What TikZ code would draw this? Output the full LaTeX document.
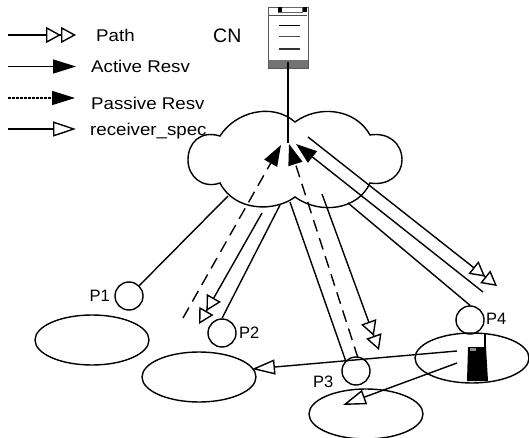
\documentclass[tikz,border=0pt]{standalone}
\usepackage{fontspec}
\setmainfont{Liberation Sans}
\newfontfamily\legendfont[FakeStretch=1.1]{Liberation Sans}
\usetikzlibrary{arrows.meta,shapes.geometric}
\tikzset{
  lbl/.style={font=\fontsize{16.5}{18}\selectfont, inner sep=0pt, anchor=west},
  leg/.style={font=\legendfont\fontsize{17}{18}\selectfont, inner sep=0pt, anchor=west},
  site/.style={draw, circle, minimum size=28pt, inner sep=0pt, line width=1.4pt},
  cell/.style={draw, ellipse, minimum width=114pt, minimum height=50pt, inner sep=0pt, line width=1.4pt},
  conn/.style={line width=1.4pt},
  dashconn/.style={line width=1.4pt, dash pattern=on 12pt off 7pt},
  pathtip/.style={-{Triangle[fill=white,length=15pt,width=16pt,line width=1.4pt,sep=0pt]Triangle[fill=white,length=15pt,width=16pt,line width=1.4pt]}},
  celltip/.style={-{Triangle[fill=white,length=23pt,width=15pt,line width=1.4pt]}},
  solidtip/.style={-{Triangle[length=21pt,width=14.5pt]}},
}
\begin{document}
\begin{tikzpicture}[x=1pt,y=-1pt]
\useasboundingbox (0,0) rectangle (529,438);
% legend
\coordinate (l1a) at (8,35);   \coordinate (l1b) at (76,35);
\coordinate (l2a) at (8,66.5); \coordinate (l2b) at (76,66.5);
\coordinate (l3a) at (8,98);   \coordinate (l3b) at (75,98);
\coordinate (l4a) at (8,129);  \coordinate (l4b) at (76,129);
\draw[conn,pathtip] (l1a) -- (l1b);
\draw[conn,-{Triangle[length=23pt,width=14pt]}] (l2a) -- (l2b);
\draw[conn,dash pattern=on 2.5pt off 1.5pt,-{Triangle[length=23pt,width=14pt]}] (l3a) -- (l3b);
\draw[conn,celltip] (l4a) -- (l4b);
\node[leg] (tpath) at (96,35) {Path};
\node[leg] (tactive) at (91,66) {Active Resv};
\node[leg] (tpassive) at (91,103) {Passive Resv};
\node[leg] (trecv) at (90,131) {receiver\_spec};
\node[lbl,font=\fontsize{19.5}{21}\selectfont] (tcn) at (213,36) {CN};
% CN host
\node[draw=black!65, line width=1pt, minimum width=40pt, minimum height=61pt, inner sep=0pt, anchor=north west] (cn) at (268,7) {};
\fill[black!55] (268.5,60) rectangle (307.5,68);
\draw[black!70, line width=.8pt] (269,15) -- (307,15);
\draw[black!60, line width=.7pt] (278,7.5) rectangle (302,12.5);
\fill[black] (278,7.5) rectangle (282,12.5);
\fill[black] (302.5,7.5) rectangle (306.5,12.5);
\draw[line width=1pt] (279,26) -- (300,26);
\draw[black!70, line width=1pt] (279,37) -- (300,37);
\draw[black!80, line width=1.2pt] (279,49) -- (300,49);
% cloud
\draw[line width=1.4pt]
  (220,136) .. controls (200,130) and (188,143) .. (188,160)
  .. controls (188,177) and (203,189) .. (220,183)
  .. controls (235,212) and (275,212) .. (295,197)
  .. controls (320,215) and (358,210) .. (370,183)
  .. controls (388,186) and (402,175) .. (402,160)
  .. controls (402,143) and (388,132) .. (370,135)
  .. controls (355,108) and (318,105) .. (295,122)
  .. controls (272,102) and (235,112) .. (220,136) -- cycle;
\coordinate (cnend) at (288,143);
\coordinate (cnbot) at (288,62);
\draw[line width=1.7pt] (cnbot) -- (cnend);
% cells
\node[cell] (e1) at (92,340) {};
\node[cell] (e2) at (199,377) {};
\node[cell] (e3) at (472,358) {};
\node[cell] (e4) at (366,414) {};
% sites
\node[site] (p1) at (129,296) {};
\node[site] (p2) at (222,333) {};
\node[site] (p3) at (356,371) {};
\node[site] (p4) at (470,320) {};
\node[lbl,anchor=east] (tp1) at (110,296) {P1};
\node[lbl] (tp2) at (239,333) {P2};
\node[lbl] (tp3) at (313,382) {P3};
\node[lbl] (tp4) at (486,319) {P4};
% mobile
\fill (468,347) -- (486,347) -- (488,381) -- (467,381) -- cycle;
\fill[black!45] (470,348) rectangle (476,351);
\coordinate (anttop) at (485,333); \coordinate (antbot) at (485,347);
\draw[line width=1.5pt] (anttop) -- (antbot);
% connectors to cloud
\coordinate (c1) at (228,196);
\coordinate (c2) at (280,205);
\coordinate (c3) at (290,202);
\coordinate (c4) at (348,203);
\draw[conn] (p1) -- (c1);
\draw[conn] (p2.north) -- (c2);
\draw[conn] (p3.north west) -- (c3);
% tips and path arrows
\coordinate (d1s) at (183,318); \coordinate (d1e) at (281,145);
\coordinate (d2e) at (289,144);
\coordinate (a3e) at (296,144); \coordinate (a3s) at (483,292);
\coordinate (b1s) at (308,137); \coordinate (b1e) at (497,286);
\coordinate (b2s) at (262,213); \coordinate (b2e) at (199,324);
\coordinate (b3s) at (322,194); \coordinate (b3e) at (379,350);
\coordinate (d2s) at (358,358);
\draw[dashconn,solidtip] (d1s) -- (d1e);
\draw[dashconn,solidtip] (d2s) -- (d2e);
\draw[conn,solidtip] (a3s) -- (a3e);
\draw[conn,pathtip] (b1s) -- (b1e);
\draw[conn,pathtip] (b2s) -- (b2e);
\draw[conn,pathtip] (b3s) -- (b3e);
\draw[conn] (c4) -- (p4.north);
% from mobile
\coordinate (m1) at (457,351); \coordinate (m2) at (457,363);
\coordinate (t1) at (252,369); \coordinate (t2) at (343,405);
\draw[conn,celltip] (m1) -- (t1);
\draw[conn,celltip] (m2) -- (t2);
\end{tikzpicture}
\end{document}
